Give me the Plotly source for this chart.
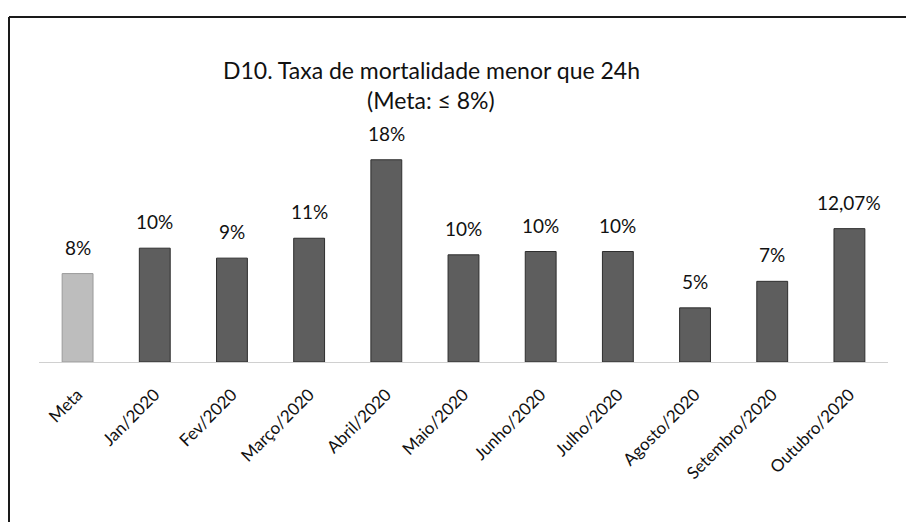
import plotly.graph_objects as go

categories = ["Meta", "Jan/2020", "Fev/2020", "Março/2020", "Abril/2020", "Maio/2020",
              "Junho/2020", "Julho/2020", "Agosto/2020", "Setembro/2020", "Outubro/2020"]
values = [8.0, 10.3, 9.4, 11.2, 18.3, 9.7, 10.0, 10.0, 4.9, 7.3, 12.07]
value_labels = ["8%", "10%", "9%", "11%", "18%", "10%", "10%", "10%", "5%", "7%", "12,07%"]

W, H = 906, 522
L, R, T, B = 39, 18, 141, 160
PW, PH = W - L - R, H - T - B

def px(x):
    return (x - L) / PW

def py(y):
    return (H - B - y) / PH

FONT = "Lato"

colors = ["#bdbdbd"] + ["#5e5e5e"] * (len(categories) - 1)
edges = ["#9a9a9a"] + ["#2e2e2e"] * (len(categories) - 1)

fig = go.Figure()
fig.add_trace(go.Bar(
    x=categories, y=values,
    marker=dict(color=colors, line=dict(color=edges, width=1)),
    hoverinfo="skip",
))

annotations = []
for c, v, lab in zip(categories, values, value_labels):
    annotations.append(dict(
        x=c, y=v, xref="x", yref="y", text=lab, showarrow=False,
        yanchor="bottom", yshift=13, font=dict(family=FONT, size=19, color="#111111"),
    ))

annotations.append(dict(
    x=px(431), y=py(70), xref="paper", yref="paper", xanchor="center", yanchor="middle",
    text="D10. Taxa de mortalidade menor que 24h", showarrow=False,
    font=dict(family=FONT, size=23, color="#111111"),
))
annotations.append(dict(
    x=px(431), y=py(100), xref="paper", yref="paper", xanchor="center", yanchor="middle",
    text="(Meta: ≤ 8%)", showarrow=False,
    font=dict(family=FONT, size=23, color="#111111"),
))

shapes = [
    dict(type="line", xref="paper", yref="paper", x0=px(9), x1=px(930), y0=py(17), y1=py(17),
         line=dict(color="#1a1a1a", width=2)),
    dict(type="line", xref="paper", yref="paper", x0=px(9), x1=px(9), y0=py(17), y1=py(540),
         line=dict(color="#1a1a1a", width=2)),
]

fig.update_layout(
    width=W, height=H,
    margin=dict(l=L, r=R, t=T, b=B),
    paper_bgcolor="white", plot_bgcolor="white",
    bargap=0.6,
    showlegend=False,
    annotations=annotations,
    shapes=shapes,
    font=dict(family=FONT, color="#111111"),
    xaxis=dict(tickangle=-45, tickfont=dict(family=FONT, size=17, color="#111111"),
               ticklabelstandoff=15,
               showline=True, linecolor="#d0d0d0", linewidth=1, ticks="", showgrid=False),
    yaxis=dict(range=[0, 20], visible=False, showgrid=False),
)

fig.write_html("out.html", config={"displayModeBar": False},
               post_script="document.body.style.margin='0';document.body.style.padding='0';")
